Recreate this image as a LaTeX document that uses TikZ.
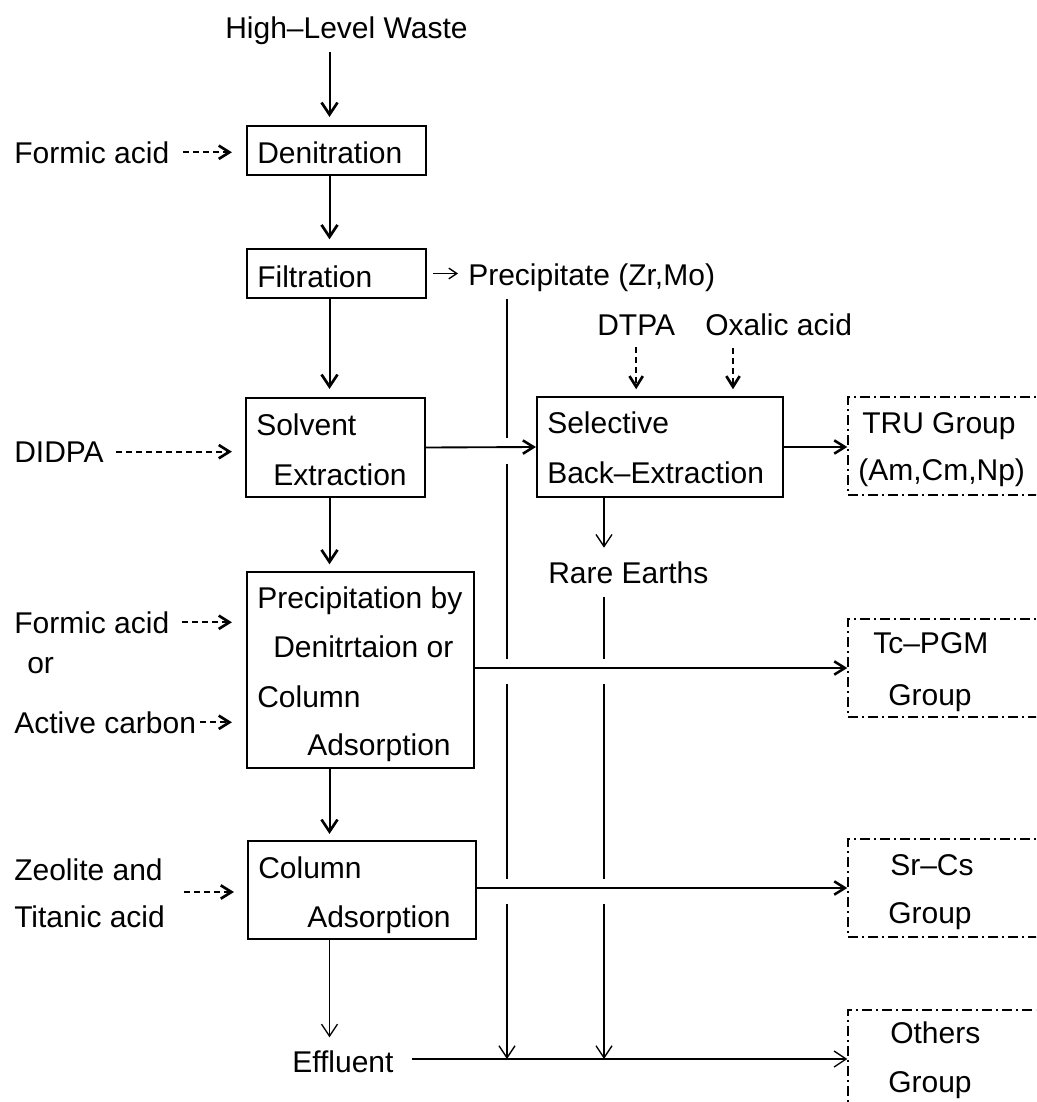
\documentclass[tikz,border=0pt]{standalone}
\usepackage{fontspec}
\setmainfont{Liberation Sans}
\usetikzlibrary{arrows.meta,fit,calc}
\begin{document}
\begin{tikzpicture}[x=0.75pt,y=-0.75pt,
  every node/.style={font=\fontsize{22.5pt}{27pt}\selectfont},
  txt/.style={anchor=base west, inner sep=0pt},
  box/.style={draw, line width=1.6pt, inner sep=0pt},
  grp/.style={draw, line width=1.1pt, dash pattern=on 7.5pt off 3pt on 1.5pt off 3pt, inner sep=0pt},
  flow/.style={line width=1.5pt, -{Straight Barb[length=9pt,width=12pt,line width=2pt]}},
  hflow/.style={line width=1.4pt, -{Straight Barb[length=8pt,width=10pt,line width=1.9pt]}},
  thinflow/.style={line width=0.8pt, -{Straight Barb[length=9pt,width=12pt,line width=1pt]}},
  smallflow/.style={line width=0.8pt, -{Straight Barb[length=6pt,width=8pt,line width=1pt]}},
  feed/.style={line width=1.3pt, dash pattern=on 4.5pt off 3pt, -{Straight Barb[length=8pt,width=10pt,line width=2pt]}},
  vline/.style={line width=0.8pt}]
\clip (0,0) rectangle (1036,1102);
\fill[white] (0,0) rectangle (1036,1102);

% ---- main column boxes and texts
\node[txt] (hlw) at (225,39) {High–Level Waste};
\node[txt] (fa1) at (14,163) {Formic acid};
\node[box, fit={(247,126)(426,175)}] (den) {};
\node[txt] (tden) at (257,163) {Denitration};
\node[box, fit={(247,249)(426,298)}] (fil) {};
\node[txt] (tfil) at (257,287) {Filtration};
\node[txt] (prec) at (468,285) {Precipitate (Zr,Mo)};

\node[txt] (didpa) at (14,462) {DIDPA};
\node[box, fit={(246,398)(425,497)}] (sol) {};
\node[txt] (tsol1) at (256,435) {Solvent};
\node[txt] (tsol2) at (273,485) {Extraction};

\node[txt] (dtpa) at (597,335) {DTPA};
\node[txt] (oxa) at (705,335) {Oxalic acid};
\node[box, fit={(537,397)(783,497)}] (sel) {};
\node[txt] (tsel1) at (547,433) {Selective};
\node[txt] (tsel2) at (547,483) {Back–Extraction};

\node[grp, fit={(848,397)(1090,495)}] (tru) {};
\node[txt] (ttru1) at (862,433) {TRU Group};
\node[txt] (ttru2) at (858,480) {(Am,Cm,Np)};

\node[txt] (rare) at (548,583) {Rare Earths};

\node[txt] (fa2) at (14,633) {Formic acid};
\node[txt] (ortxt) at (27,673) {or};
\node[txt] (acc) at (14,733) {Active carbon};
\node[box, fit={(247,572)(474,768)}] (pre) {};
\node[txt] (tpre1) at (257,608) {Precipitation by};
\node[txt] (tpre2) at (273,657) {Denitrtaion or};
\node[txt] (tpre3) at (257,707) {Column};
\node[txt] (tpre4) at (307,755) {Adsorption};

\node[grp, fit={(848,619)(1090,717)}] (tc) {};
\node[txt] (ttc1) at (873,653) {Tc–PGM};
\node[txt] (ttc2) at (888,705) {Group};

\node[txt] (zeo) at (14,880) {Zeolite and};
\node[txt] (tit) at (14,927) {Titanic acid};
\node[box, fit={(248,841)(476,939)}] (col) {};
\node[txt] (tcol1) at (258,878) {Column};
\node[txt] (tcol2) at (307,927) {Adsorption};

\node[grp, fit={(848,839)(1090,937)}] (sr) {};
\node[txt] (tsr1) at (890,875) {Sr–Cs};
\node[txt] (tsr2) at (888,923) {Group};

\node[txt] (eff) at (292,1072) {Effluent};
\node[grp, fit={(848,1010)(1090,1130)}] (oth) {};
\node[txt] (toth1) at (890,1043) {Others};
\node[txt] (toth2) at (888,1092) {Group};

% ---- helper coordinates
\coordinate (ax) at (329.5,0);
\coordinate (vx1) at (507,0);
\coordinate (vx2) at (604,0);
\coordinate (ox) at (733,0);
\coordinate (effout) at (412,1059);
\coordinate (zt) at (184,892);

% ---- main vertical flow
\draw[flow, shorten <=5pt, shorten >=6pt] (hlw.south -| ax) -- (den.north -| ax);
\draw[flow, shorten >=6.5pt] (den.south -| ax) -- (fil.north -| ax);
\draw[flow, shorten >=6pt] (fil.south -| ax) -- (sol.north -| ax);
\draw[flow, shorten >=5pt] (sol.south -| ax) -- (pre.north -| ax);
\draw[flow, shorten >=4.5pt] (pre.south -| ax) -- (col.north -| ax);
\draw[thinflow, shorten >=9.5pt] (col.south -| ax) -- (eff.north -| ax);

% ---- feeds
\draw[feed, shorten <=10pt, shorten >=10.5pt] (fa1.east) -- (fa1.east -| den.west);
\draw[feed, shorten <=9pt, shorten >=9.75pt] (didpa.east) -- (didpa.east -| sol.west);
\draw[feed, shorten <=9.5pt, shorten >=10.5pt] (fa2.east) -- (fa2.east -| pre.west);
\draw[feed, shorten <=3pt, shorten >=10.5pt] (acc.east) -- (acc.east -| pre.west);
\draw[feed, shorten >=9.75pt] (zt) -- (zt -| col.west);
\draw[feed, shorten <=9pt, shorten >=5pt] (dtpa.south) -- (dtpa.south |- sel.north);
\draw[feed, shorten <=9pt, shorten >=5pt] (ox |- oxa.south) -- (ox |- sel.north);

% ---- horizontal outputs
\draw[hflow] (sol.east) -- (sel.west);
\draw[hflow] (sel.east) -- (sel.east -| tru.west);
\draw[hflow] (tc.west -| pre.east) -- (tc.west);
\draw[hflow] (sr.west -| col.east) -- (sr.west);
\draw[thinflow] (effout) -- (effout -| oth.west);
\draw[smallflow, shorten <=4.5pt, shorten >=7.5pt] (fil.east) -- (fil.east -| prec.west);
\draw[thinflow, shorten >=10pt] (sel.south -| vx2) -- (rare.north -| vx2);

% ---- long vertical lines with gaps at crossings
\path (prec.south -| vx1) ++(0,8) coordinate (v1s);
\path (rare.south -| vx2) ++(0,13) coordinate (v2s);
\coordinate (k11) at (vx1 |- sol.east);
\coordinate (k12) at (vx1 |- tc.west);
\coordinate (k13) at (vx1 |- sr.west);
\coordinate (k22) at (vx2 |- tc.west);
\coordinate (k23) at (vx2 |- sr.west);
\coordinate (j1) at (vx1 |- effout);
\coordinate (j2) at (vx2 |- effout);
\draw[vline] (v1s) -- ([yshift=7pt]k11) ([yshift=-12pt]k11) -- ([yshift=7pt]k12) ([yshift=-12pt]k12) -- ([yshift=7pt]k13);
\draw[thinflow] ([yshift=-12pt]k13) -- (j1);
\draw[vline] (v2s) -- ([yshift=7pt]k22) ([yshift=-12pt]k22) -- ([yshift=7pt]k23);
\draw[thinflow] ([yshift=-12pt]k23) -- (j2);
\end{tikzpicture}
\end{document}
